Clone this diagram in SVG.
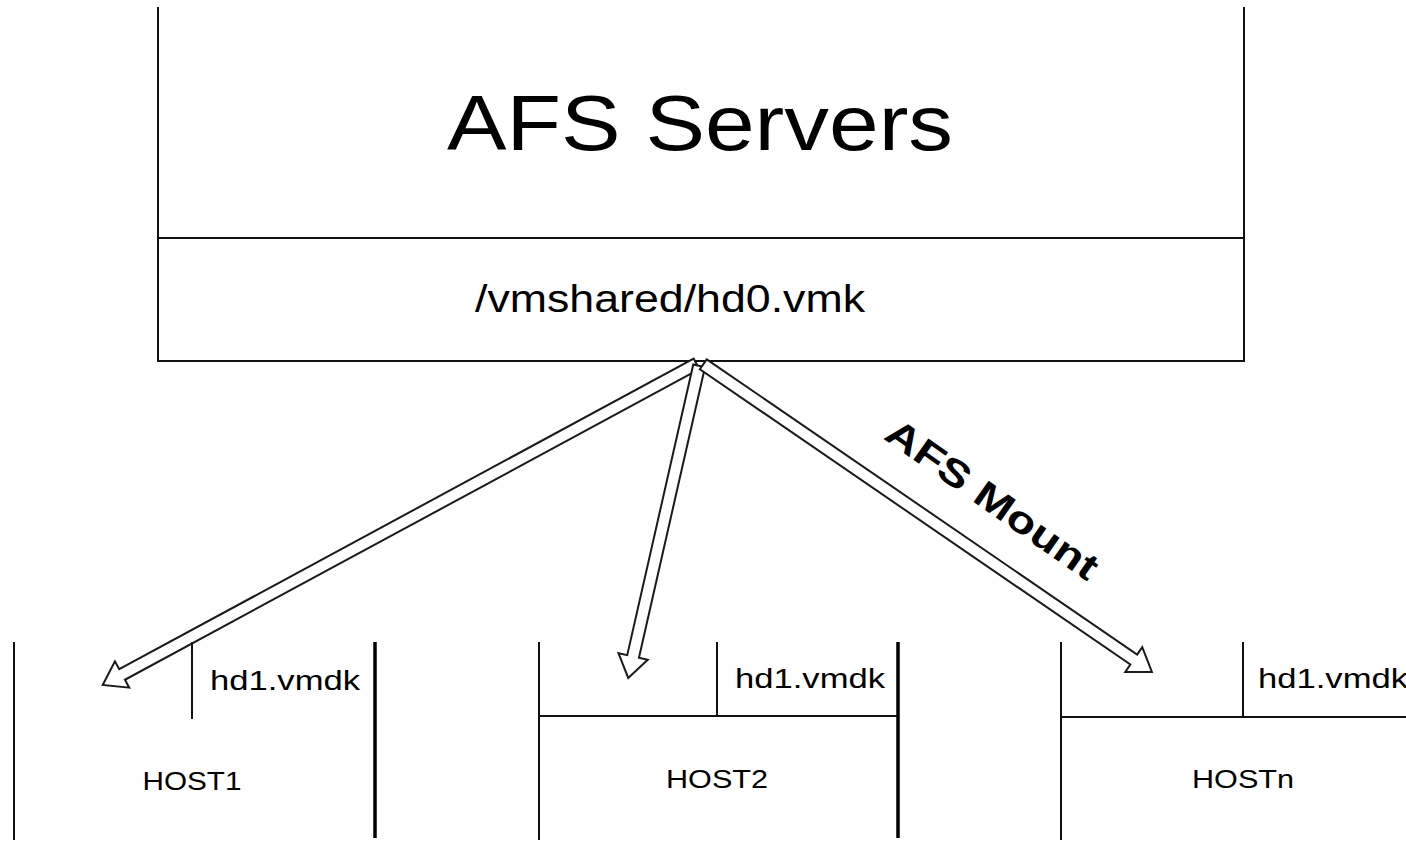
<svg xmlns="http://www.w3.org/2000/svg" width="1406" height="841" viewBox="0 0 1406 841">
<style>
.ln{stroke:#111;stroke-width:2;fill:none}
.thk{stroke:#000;stroke-width:3.5;fill:none}
.t{font-family:"Liberation Sans",Arial,sans-serif;fill:#000}
.arr{fill:#fff;stroke:#1a1a1a;stroke-width:2;stroke-linejoin:miter}
</style>
<rect width="1406" height="841" fill="#fff"/>
<g id="afs-servers">
<path class="ln" d="M158,7 V361 H1244 V7" stroke-width="2.5"/>
<line class="ln" x1="158" y1="238" x2="1244" y2="238"/>
<text class="t" x="700" y="150" text-anchor="middle" font-size="78" textLength="506" lengthAdjust="spacingAndGlyphs">AFS Servers</text>
<text class="t" x="670" y="312" text-anchor="middle" font-size="38" textLength="390" lengthAdjust="spacingAndGlyphs">/vmshared/hd0.vmk</text>
</g>
<g id="connectors">
<g transform="translate(700,362) rotate(151.6)"><polygon class="arr" points="4,-6 657,-6 657,-15 679,0 657,15 657,6 4,6"/></g>
<g transform="translate(700,362) rotate(102.8)"><polygon class="arr" points="4,-6 302,-6 302,-15 324,0 302,15 302,6 4,6"/></g>
<g transform="translate(700,362) rotate(34.45)"><polygon class="arr" points="4,-6 526,-6 526,-15 548,0 526,15 526,6 4,6"/></g>
<text class="t" font-weight="bold" font-size="38" transform="translate(985,510) rotate(35)" text-anchor="middle" textLength="250" lengthAdjust="spacingAndGlyphs">AFS Mount</text>
</g>
<g id="host1">
<line class="ln" x1="14" y1="642" x2="14" y2="840"/>
<line class="ln" x1="192" y1="642" x2="192" y2="719"/>
<line class="thk" x1="375" y1="642" x2="375" y2="838"/>
<text class="t" x="210" y="690" font-size="27" textLength="150" lengthAdjust="spacingAndGlyphs">hd1.vmdk</text>
<text class="t" x="192" y="790" text-anchor="middle" font-size="25" textLength="99" lengthAdjust="spacingAndGlyphs">HOST1</text>
</g>
<g id="host2">
<line class="ln" x1="539" y1="642" x2="539" y2="840"/>
<line class="ln" x1="717" y1="642" x2="717" y2="716"/>
<line class="ln" x1="539" y1="716" x2="898" y2="716" stroke-width="3"/>
<line class="thk" x1="898" y1="642" x2="898" y2="838"/>
<text class="t" x="735" y="688" font-size="27" textLength="150" lengthAdjust="spacingAndGlyphs">hd1.vmdk</text>
<text class="t" x="717" y="788" text-anchor="middle" font-size="25" textLength="102" lengthAdjust="spacingAndGlyphs">HOST2</text>
</g>
<g id="hostn">
<line class="ln" x1="1061" y1="642" x2="1061" y2="840"/>
<line class="ln" x1="1243" y1="642" x2="1243" y2="717"/>
<line class="ln" x1="1061" y1="717" x2="1406" y2="717" stroke-width="3"/>
<text class="t" x="1258" y="688" font-size="27" textLength="150" lengthAdjust="spacingAndGlyphs">hd1.vmdk</text>
<text class="t" x="1243" y="788" text-anchor="middle" font-size="25" textLength="102" lengthAdjust="spacingAndGlyphs">HOSTn</text>
</g>
</svg>
